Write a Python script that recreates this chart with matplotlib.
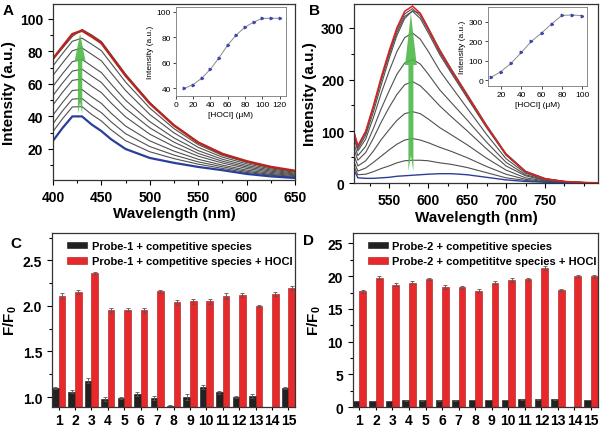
import numpy as np
import matplotlib
matplotlib.use('Agg')
import matplotlib.pyplot as plt
from matplotlib.patches import Polygon
from matplotlib.ticker import MultipleLocator

plt.rcParams['font.family'] = ['Liberation Sans', 'DejaVu Sans']
plt.rcParams['font.weight'] = 'bold'
plt.rcParams['mathtext.fontset'] = 'custom'
plt.rcParams['mathtext.rm'] = 'Liberation Sans'
plt.rcParams['mathtext.bf'] = 'Liberation Sans:bold'
plt.rcParams['axes.linewidth'] = 0.9
plt.rcParams['axes.edgecolor'] = '#333333'

# ---- panel A: emission spectra, probe-1 ----
wl_a = [400, 410, 420, 430, 440, 450, 460, 475, 500, 525, 550, 575, 600, 625, 650]
a_blue = [25, 33, 40, 40, 35, 31, 26, 20, 14.5, 11.5, 9, 7, 4.7, 3.2, 2.2]
a_grays = [
    [30.7, 38.7, 45.8, 46, 41.2, 37.2, 31.8, 25.1, 18.3, 14.1, 10.7, 8.1, 5.6, 3.9, 2.7],
    [35.5, 43.5, 50.6, 51, 46.3, 42.3, 36.7, 29.4, 21.5, 16.3, 12.1, 9.1, 6.3, 4.4, 3.1],
    [40.8, 48.7, 55.9, 56.5, 52, 48, 42, 34.1, 25, 18.7, 13.7, 10.1, 7.1, 5, 3.6],
    [47, 54.9, 62.1, 63, 58.6, 54.6, 48.3, 39.7, 29.1, 21.5, 15.6, 11.4, 8.1, 5.7, 4.1],
    [52.8, 60.6, 67.8, 69, 64.8, 60.8, 54.1, 44.8, 33, 24.2, 17.3, 12.5, 9, 6.4, 4.6],
    [58.5, 66.3, 73.6, 75, 70.9, 66.9, 59.9, 49.9, 36.8, 26.8, 19, 13.7, 9.9, 7.1, 5.1],
    [65.2, 72.9, 80.3, 82, 78.1, 74.1, 66.7, 55.9, 41.2, 29.9, 21, 15, 10.9, 7.8, 5.7],
    [71, 78.7, 86.1, 88, 84.3, 80.3, 72.6, 61.1, 45.1, 32.5, 22.7, 16.1, 11.8, 8.5, 6.2],
    [75, 82, 89, 93.4, 90, 86, 78, 66, 48.5, 34.5, 24, 16.8, 12.2, 8.8, 6.3],
]
a_red = [75.4, 83, 90.5, 92.6, 89, 85, 77, 65, 48, 34.5, 24, 17, 12.5, 9, 6.6]

hocl_a = [10, 20, 30, 40, 50, 60, 70, 80, 90, 100, 110, 120]
int_a = [40, 43, 48, 55, 64, 74, 82, 88, 92, 95, 95, 95]

# ---- panel B: emission spectra, probe-2 ----
wl_b = [505, 510, 520, 530, 540, 550, 560, 570, 580, 590, 600, 615, 630, 650, 675, 700, 725, 750, 775, 800, 818]
b_blue = [25, 10, 9, 9, 10, 11, 13, 14, 15, 16, 17, 18, 18, 16, 11, 6, 3, 1.5, 0.7, 0.3, 0.2]
b_grays = [
    [32, 16, 17, 22, 28, 33, 39, 43, 44, 44, 43, 39, 36, 30, 20, 10, 5, 2, 0.9, 0.4, 0.2],
    [41, 23, 29, 40, 52, 64, 75, 83, 86, 83, 78, 69, 61, 49, 32, 17, 7, 3, 1.2, 0.5, 0.3],
    [53, 33, 43, 62, 84, 103, 121, 134, 138, 134, 124, 107, 93, 74, 48, 25, 10, 4, 1.6, 0.6, 0.3],
    [65, 44, 59, 87, 118, 146, 171, 190, 196, 188, 173, 149, 128, 101, 66, 33, 14, 5, 2, 0.7, 0.4],
    [75, 53, 71, 106, 144, 178, 210, 232, 239, 230, 211, 180, 155, 122, 79, 40, 16, 6, 2.3, 0.8, 0.4],
    [86, 62, 85, 127, 174, 216, 254, 281, 290, 278, 255, 217, 186, 145, 94, 47, 19, 7, 2.6, 0.9, 0.5],
    [96, 70, 97, 146, 199, 247, 291, 322, 332, 318, 291, 248, 212, 165, 107, 54, 21, 8, 2.9, 1, 0.5],
    [90, 66, 92, 138, 190, 240, 285, 318, 333, 328, 300, 258, 220, 172, 112, 57, 23, 9, 3, 1, 0.5],
    [97, 71, 99, 148, 202, 251, 296, 327, 337, 323, 296, 252, 215, 168, 109, 54, 22, 8, 3, 1, 0.5],
]
b_red = [98, 72, 100, 150, 205, 255, 300, 332, 342, 328, 300, 255, 218, 170, 110, 55, 22, 8, 3, 1, 0.5]

hocl_b = [10, 20, 30, 40, 50, 60, 70, 80, 90, 100]
int_b = [15, 45, 88, 143, 200, 243, 290, 333, 335, 332]

# ---- panels C/D: selectivity bars ----
species = [str(i) for i in range(1, 16)]
c_black = [1.10, 1.06, 1.18, 0.98, 0.99, 1.03, 0.99, 0.90, 1.00, 1.11, 1.05, 1.00, 1.01, 0.87, 1.10]
c_black_err = [0.01, 0.02, 0.03, 0.02, 0.01, 0.02, 0.02, 0.01, 0.03, 0.02, 0.02, 0.01, 0.02, 0.01, 0.01]
c_red = [2.11, 2.15, 2.36, 1.95, 1.96, 1.95, 2.16, 2.04, 2.05, 2.05, 2.11, 2.12, 2.00, 2.13, 2.20]
c_red_err = [0.03, 0.02, 0.01, 0.03, 0.02, 0.03, 0.02, 0.03, 0.03, 0.03, 0.03, 0.02, 0.01, 0.02, 0.02]

d_black = [0.9, 0.9, 0.9, 1.0, 1.0, 1.0, 1.0, 1.1, 1.1, 1.1, 1.2, 1.2, 1.2, 0.0, 1.1]
d_black_err = [0.05] * 15
d_red = [17.7, 19.8, 18.7, 19.0, 19.6, 18.4, 18.3, 17.8, 19.0, 19.4, 19.5, 21.3, 17.9, 20.0, 20.0]
d_red_err = [0.2, 0.2, 0.2, 0.2, 0.2, 0.3, 0.2, 0.2, 0.2, 0.3, 0.3, 0.3, 0.15, 0.15, 0.2]

GREEN = '#4fb848'


def style_ax(ax, size=10, xpad=3.5):
    ax.tick_params(which='both', direction='out', top=False, right=False, labelsize=size, width=0.8)
    ax.tick_params(which='major', length=3.5)
    ax.tick_params(which='minor', length=2)
    ax.tick_params(axis='x', pad=xpad)
    for lab in ax.get_xticklabels() + ax.get_yticklabels():
        lab.set_fontweight('bold')


def style_inset(ax):
    ax.tick_params(which='both', direction='out', labelsize=6, width=0.5, length=2, pad=1.5)
    for s in ax.spines.values():
        s.set_linewidth(0.6)
        s.set_color('#777777')
    for lab in ax.get_xticklabels() + ax.get_yticklabels():
        lab.set_fontweight('normal')


def up_arrow(ax, cx, y0, y1, shaft, head, head_len, notch):
    yh = y1 - head_len
    pts = [(cx - shaft / 2, y0), (cx, y0 + notch), (cx + shaft / 2, y0),
           (cx + shaft / 2, yh), (cx + head / 2, yh), (cx, y1),
           (cx - head / 2, yh), (cx - shaft / 2, yh)]
    ax.add_patch(Polygon(pts, closed=True, facecolor=GREEN, edgecolor='none', alpha=0.9, zorder=5))


fig = plt.figure(figsize=(6, 4.35), dpi=100)

# A
axA = fig.add_axes([0.0883, 0.584, 0.4033, 0.4046])
for g in a_grays:
    axA.plot(wl_a, g, color='#505050', lw=0.8)
axA.plot(wl_a, a_blue, color='#2a3f9a', lw=1.6)
axA.plot(wl_a, a_red, color='#b5261e', lw=1.8)
up_arrow(axA, 428, 41.5, 90.8, 4.5, 11.4, 17, 7)
axA.set_xlim(400, 650)
axA.set_ylim(1, 109)
axA.xaxis.set_major_locator(MultipleLocator(50))
axA.xaxis.set_minor_locator(MultipleLocator(25))
axA.yaxis.set_minor_locator(MultipleLocator(10))
axA.set_yticks([20, 40, 60, 80, 100])
axA.set_xlabel('Wavelength (nm)', fontsize=11, fontweight='bold', labelpad=2)
axA.set_ylabel('Intensity (a.u.)', fontsize=11, fontweight='bold', labelpad=3)
style_ax(axA)

inA = fig.add_axes([0.293, 0.777, 0.183, 0.205])
inA.plot(hocl_a, int_a, color='#8a8a8a', lw=0.7, marker='>', ms=1.8, mfc='#3a46b0', mec='#3a46b0')
inA.set_xlim(0, 127)
inA.set_ylim(34, 104)
inA.set_xticks([0, 20, 40, 60, 80, 100, 120])
inA.set_yticks([40, 60, 80, 100])
inA.set_xlabel('[HOCl] (\u03bcM)', fontsize=6, fontweight='normal', labelpad=2)
inA.set_ylabel('Intensity (a.u.)', fontsize=6, fontweight='normal', labelpad=2)
style_inset(inA)

# B
axB = fig.add_axes([0.59, 0.577, 0.4067, 0.4115])
for g in b_grays:
    axB.plot(wl_b, g, color='#505050', lw=0.8)
axB.plot(wl_b, b_blue, color='#2a3f9a', lw=1.0)
axB.plot(wl_b, b_red, color='#e02020', lw=1.1)
up_arrow(axB, 578, 23, 328, 6.4, 15, 100, 30)
axB.set_xlim(505, 818)
axB.set_ylim(0, 346)
axB.xaxis.set_minor_locator(MultipleLocator(25))
axB.yaxis.set_major_locator(MultipleLocator(100))
axB.yaxis.set_minor_locator(MultipleLocator(50))
axB.set_xticks([550, 600, 650, 700, 750])
axB.set_xlabel('Wavelength (nm)', fontsize=11, fontweight='bold', labelpad=2)
axB.set_ylabel('Intensity (a.u.)', fontsize=11, fontweight='bold', labelpad=3)
style_ax(axB)

inB = fig.add_axes([0.813, 0.80, 0.165, 0.182])
inB.plot(hocl_b, int_b, color='#8a8a8a', lw=0.7, marker='>', ms=1.8, mfc='#3a46b0', mec='#3a46b0')
inB.set_xlim(7, 104.6)
inB.set_ylim(-29, 377)
inB.set_xticks([20, 40, 60, 80, 100])
inB.set_yticks([0, 100, 200, 300])
inB.set_xlabel('[HOCl] (\u03bcM)', fontsize=6, fontweight='normal', labelpad=2)
inB.set_ylabel('Intensity (a.u.)', fontsize=6, fontweight='normal', labelpad=2)
style_inset(inB)

# C and D
x = np.arange(1, 16)
ekw = dict(ecolor='#555555', elinewidth=0.6, capsize=1.5, capthick=0.6)


def bar_panel(ax, black, black_err, red, red_err, labels):
    ax.bar(x - 0.2, black, 0.4, yerr=black_err, color='#222222', edgecolor='#111111',
           lw=0.4, error_kw=ekw, label=labels[0])
    ax.bar(x + 0.2, red, 0.4, yerr=red_err, color='#e8292b', edgecolor='#a51515',
           lw=0.4, error_kw=ekw, label=labels[1])
    ax.set_xlim(0.6, 15.4)
    ax.set_xticks(x)
    ax.set_xticklabels(species)
    ax.set_ylabel(r'$\mathbf{F/F_0}$', fontsize=11, labelpad=3)
    ax.legend(loc='upper left', bbox_to_anchor=(0.03, 1.0), frameon=False,
              prop={'size': 8, 'weight': 'bold'}, handlelength=1.8, handleheight=0.55,
              handletextpad=0.4, labelspacing=0.5, borderaxespad=0.3)


axC = fig.add_axes([0.0867, 0.062, 0.405, 0.4]) 
bar_panel(axC, c_black, c_black_err, c_red, c_red_err,
          ['Probe-1 + competitive species', 'Probe-1 + competitive species + HOCl'])
axC.set_ylim(0.89, 2.8)
axC.set_yticks([1.0, 1.5, 2.0, 2.5])
axC.yaxis.set_minor_locator(MultipleLocator(0.25))
style_ax(axC, xpad=1.5)
axC.tick_params(axis='x', which='major', length=2.5)

axD = fig.add_axes([0.588, 0.062, 0.408, 0.4])
bar_panel(axD, d_black, d_black_err, d_red, d_red_err,
          ['Probe-2 + competitive species', 'Probe-2 + competititve species + HOCl'])
axD.set_ylim(0, 26.6)
axD.set_yticks([0, 5, 10, 15, 20, 25])
axD.yaxis.set_minor_locator(MultipleLocator(2.5))
style_ax(axD, xpad=1.5)
axD.tick_params(axis='x', which='major', length=2.5)

fig.text(0.005, 0.975, 'A', fontsize=11, fontweight='bold', va='center')
fig.text(0.515, 0.975, 'B', fontsize=11, fontweight='bold', va='center')
fig.text(0.018, 0.44, 'C', fontsize=11, fontweight='bold', va='center')
fig.text(0.505, 0.445, 'D', fontsize=11, fontweight='bold', va='center')

fig.savefig('out.png', dpi=100)
